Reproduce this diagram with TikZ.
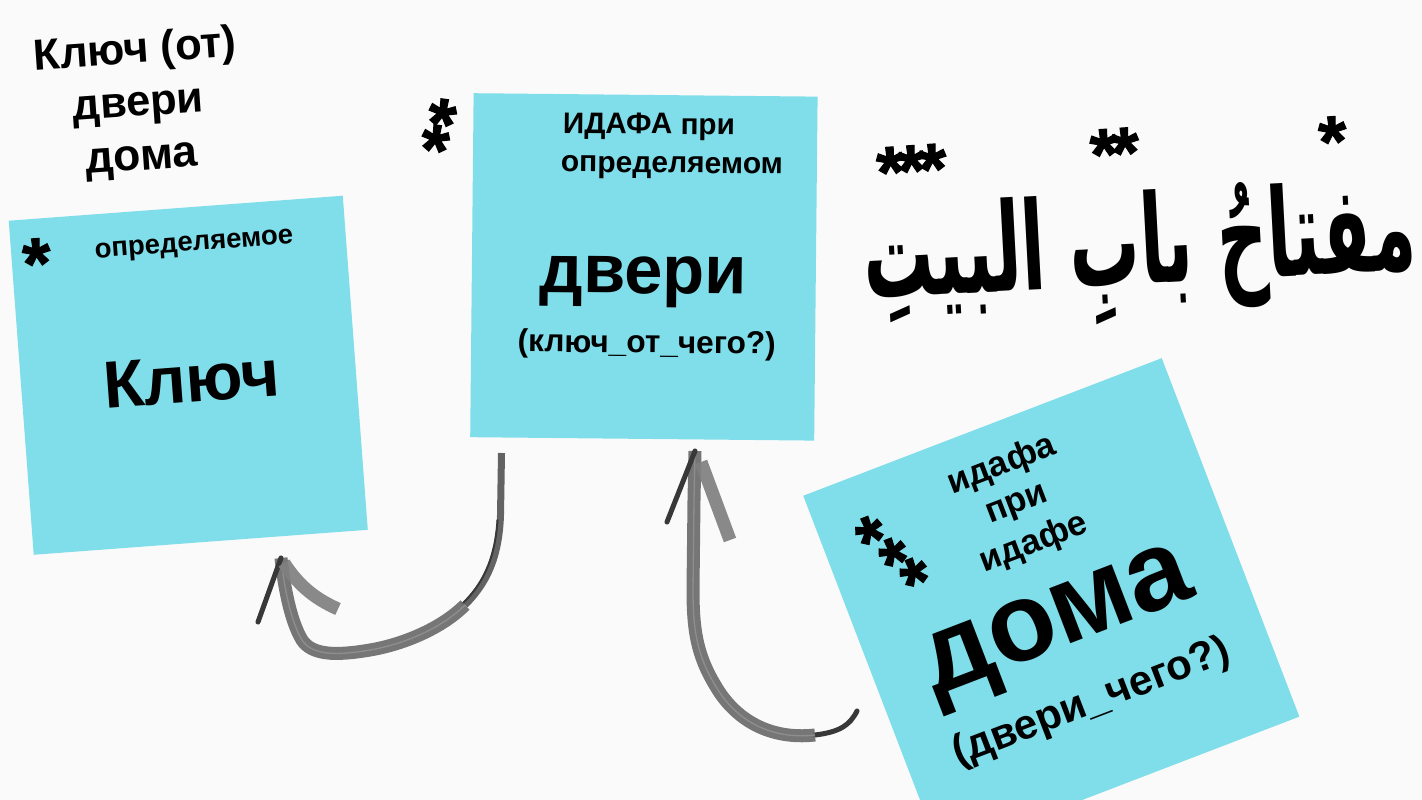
\documentclass[tikz,border=0pt]{standalone}
\usepackage{fontspec}
\usepackage{graphicx}
\setmainfont{Liberation Sans}
\newfontfamily\arabicfont[Script=Arabic]{DejaVu Sans}
\newfontfamily\starfont[FakeBold=1.6]{Liberation Sans Bold}
\TeXXeTstate=1
\definecolor{stickyc}{HTML}{80DEEA}
\definecolor{bgc}{HTML}{FAFAFA}
\newcommand\fw[2]{\resizebox{#1pt}{!}{#2}}
\newcommand\astk[1]{\raisebox{-0.53em}{#1}}
\newcommand\sk{\kern-7pt}
\begin{document}
\begin{tikzpicture}[x=1pt,y=1pt,
  sticky/.style={fill=stickyc, draw=none, inner sep=0pt, minimum size=#1},
  txt/.style={inner sep=0pt, font=\bfseries, anchor=base},
  smalltxt/.style={txt, font=\bfseries\fontsize{35}{35}\selectfont},
  star/.style={inner sep=0pt, anchor=base, font=\starfont\fontsize{72}{72}\selectfont},
  brush/.style={draw=black!58, line width=#1, line cap=butt, line join=round, opacity=0.92},
  streak/.style={draw=black!40, line width=1.3, line cap=butt, opacity=0.7},
  darkedge/.style={draw=black!78, line width=#1, line cap=round}
]
\fill[bgc] (0,0) rectangle (1422,-800);
\useasboundingbox (0,0) rectangle (1422,-800);
\clip (0,0) rectangle (1422,-800);

% sticky notes
\node[sticky=335pt, rotate=4.28] (s1) at (188.25,-375.25) {};
\node[sticky=344pt, rotate=-0.57] (s2) at (643.9,-266.9) {};
\node[sticky=384pt, rotate=21] (s3) at (1051.3,-606.2) {};

% top-left caption
\node[txt, rotate=4] (t1) at (136,-63) {\fw{203}{Ключ (от)}};
\node[txt, rotate=4] (t2) at (139,-116) {\fw{131}{двери}};
\node[txt, rotate=4] (t3) at (142.5,-170) {\fw{112}{дома}};

% sticky 1
\node[star, rotate=4.28] (a1) at (36,-250) {\astk{*}};
\node[txt, rotate=4.28] (t4) at (194.5,-250.7) {\fw{199}{определяемое}};
\node[txt, rotate=4.28] (t5) at (193,-402) {\fw{176}{Ключ}};

% sticky 2
\node[star, rotate=-8] (a2) at (443,-110.5) {\astk{*}};
\node[star, rotate=-8] (a3) at (436,-136.5) {\astk{*}};
\node[txt, anchor=base west, rotate=-0.57] (t6) at (562.7,-133) {\fw{172}{ИДАФА при}};
\node[txt, anchor=base west, rotate=-0.57] (t7) at (560.7,-171.7) {\fw{222}{определяемом}};
\node[txt, rotate=-0.57] (t8) at (643,-293.3) {\fw{207}{двери}};
\node[txt, rotate=-0.57] (t9) at (646.7,-353) {\fw{258}{(ключ\_от\_чего?)}};

% sticky 3
\node[star, rotate=21] (a4) at (868.3,-528.3) {\astk{*}};
\node[star, rotate=21] (a5) at (891.7,-550) {\astk{*}};
\node[star, rotate=21] (a6) at (912.7,-570) {\astk{*}};
\node[smalltxt, rotate=21] (t10) at (1005,-474) {идафа};
\node[smalltxt, rotate=21] (t11) at (1020,-512) {при};
\node[smalltxt, rotate=21] (t12) at (1037,-552) {идафе};
\node[txt, rotate=21] (t13) at (1066,-646) {\fw{280}{дома}};
\node[txt, rotate=21] (t14) at (1095.5,-713) {\fw{294}{(двери\_чего?)}};

% Arabic phrase
\node[txt, rotate=3] (ar) at (1142,-284) {\fw{553}{\scalebox{1}[1.75]{\arabicfont\bfseries\beginR مفتاحُ بابِ البيتِ\endR}}};
\node[star, rotate=4] (a7) at (1332,-128) {\astk{*}};
\node[star, rotate=4] (a8) at (1114,-140) {\astk{*\sk*}};
\node[star, rotate=4] (a9) at (911,-157) {\astk{*\sk*\sk*}};

% arrow 1 (from below "двери" to below "Ключ")
\coordinate (a1s) at (501.5,-453);
\coordinate (a1t) at (281,-558);
\draw[brush=7, draw=black!66] (a1s) -- (500.5,-515) .. controls (499,-560) and (485,-585) .. (465,-605);
\draw[darkedge=2] (497.5,-520) .. controls (495,-560) and (482,-585) .. (462,-604);
\draw[brush=13] (465,-605) .. controls (440,-630) and (400,-645) .. (370,-650) .. controls (335,-656) and (312,-655) .. (302,-640) .. controls (290,-620) and (284,-585) .. (a1t);
\draw[streak] (465,-605) .. controls (440,-630) and (400,-645) .. (370,-650) .. controls (335,-656) and (312,-655) .. (302,-640) .. controls (290,-620) and (284,-585) .. (a1t);
\draw[darkedge=5] (a1t) -- (258,-622);
\draw[brush=13, draw=black!50] (284,-563) .. controls (300,-588) and (318,-600) .. (338,-609);

% arrow 2 (from below "дома" up to "двери")
\coordinate (a2s) at (857,-711);
\coordinate (a2t) at (695,-451);
\draw[darkedge=5] (a2s) .. controls (850,-725) and (840,-732) .. (815,-735);
\draw[brush=13] (815,-735) .. controls (770,-740) and (735,-720) .. (715,-685) .. controls (697,-655) and (693,-630) .. (693,-590) -- (694,-500) -- (a2t);
\draw[streak] (815,-735) .. controls (770,-740) and (735,-720) .. (715,-685) .. controls (697,-655) and (693,-630) .. (693,-590) -- (694,-500) -- (a2t);
\draw[darkedge=5] (a2t) -- (667,-522);
\draw[brush=13, draw=black!50] (701,-462) -- (730,-540);
\end{tikzpicture}
\end{document}
